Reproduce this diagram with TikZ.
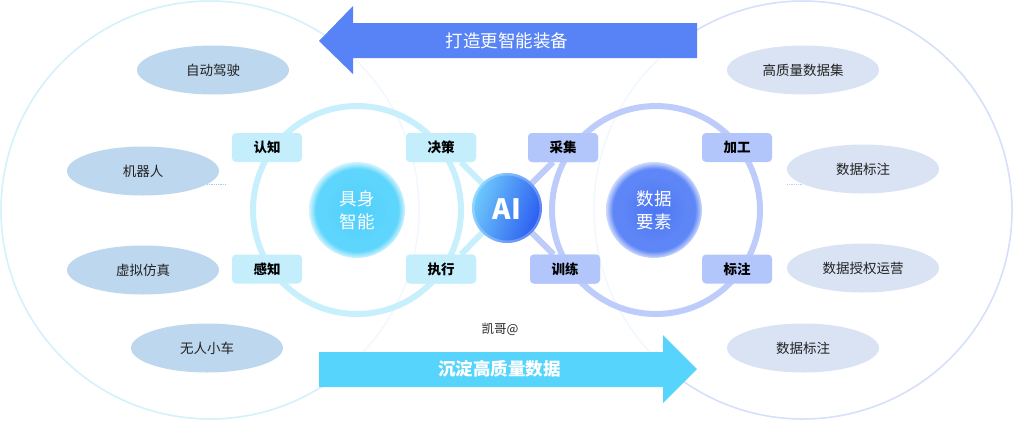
\documentclass[tikz,border=0pt]{standalone}
\usepackage{fontspec}
\setmainfont{Noto Sans CJK SC}
\usetikzlibrary{shapes.geometric}
\definecolor{bigL}{HTML}{D3F2FC}
\definecolor{bigR}{HTML}{D6DFFB}
\definecolor{bigFade}{HTML}{F1F8FD}
\definecolor{ringL}{HTML}{C8F0FC}
\definecolor{ringR}{HTML}{BDCCFA}
\definecolor{boxL}{HTML}{C5EEFC}
\definecolor{boxR}{HTML}{B3C6FB}
\definecolor{ellL}{HTML}{BDD7EE}
\definecolor{ellR}{HTML}{D9E3F4}
\definecolor{arrTop}{HTML}{5783F7}
\definecolor{arrBot}{HTML}{56D4FC}
\definecolor{txt}{HTML}{222222}
\definecolor{aiL}{HTML}{6FCBFC}
\definecolor{aiR}{HTML}{2A5BF0}
\definecolor{jsIn}{HTML}{4ECFFB}
\definecolor{jsMid}{HTML}{5ED5FC}
\definecolor{jsOut}{HTML}{D4F4FE}
\definecolor{sjIn}{HTML}{4C76F4}
\definecolor{sjMid}{HTML}{5E86F6}
\definecolor{sjOut}{HTML}{D0DBFC}
\definecolor{dotc}{HTML}{9CCDF0}
\pgfdeclareradialshading{jsglow}{\pgfpoint{0bp}{0bp}}{color(0bp)=(jsIn); color(17bp)=(jsMid); color(21.5bp)=(jsMid); color(25bp)=(jsOut); color(50bp)=(jsOut)}
\pgfdeclareradialshading{sjglow}{\pgfpoint{0bp}{0bp}}{color(0bp)=(sjIn); color(17bp)=(sjMid); color(21.5bp)=(sjMid); color(25bp)=(sjOut); color(50bp)=(sjOut)}
\tikzset{
  boxl/.style={rectangle, rounded corners=4pt, fill=boxL, minimum width=70pt, minimum height=29pt, font=\fontsize{13.5}{15}\selectfont\bfseries, text=black},
  boxr/.style={boxl, fill=boxR},
  elll/.style={ellipse, fill=ellL, minimum width=152pt, minimum height=49pt, inner sep=0pt, font=\fontsize{13.5}{15}\selectfont, text=txt},
  ellr/.style={elll, fill=ellR},
  arrtext/.style={font=\fontsize{17.5}{20}\selectfont, text=white},
  ctext/.style={font=\fontsize{17.5}{23}\selectfont, text=white, align=center},
  link/.style={line width=6pt},
}
\begin{document}
\begin{tikzpicture}[x=1pt,y=-1pt]
\useasboundingbox (0,0) rectangle (1013,421);
% big circles
\draw[bigFade, line width=1.5pt] (210,210) circle (209);
\draw[bigFade, line width=1.5pt] (803,210) circle (209);
\draw[bigL, line width=1.5pt] (210,210) ++(55:209) arc (55:305:209);
\draw[bigR, line width=1.5pt] (803,210) ++(125:209) arc (125:-125:209);
% arrows
\fill[arrTop] (319,41) -- (353,6) -- (353,23) -- (697,23) -- (697,58) -- (353,58) -- (353,74) -- cycle;
\node[arrtext] (toparrow) at (507,41) {打造更智能装备};
\fill[arrBot] (319,352) -- (663,352) -- (663,335) -- (697,369) -- (663,403) -- (663,387) -- (319,387) -- cycle;
\node[arrtext, font=\fontsize{17.5}{20}\selectfont\bfseries] (botarrow) at (499.5,369) {沉淀高质量数据};
\node[font=\fontsize{12.5}{14}\selectfont, text=txt] (author) at (500,329) {凯哥@};
% rings
\draw[ringL, line width=6pt] (357,210) circle (104);
\draw[ringR, line width=6pt] (656,210) circle (104);
% anchor nodes
\node[circle, minimum size=68pt, inner sep=0pt] (ai) at (507,208) {};
\node[boxl] (jc0) at (441,147.5) {};
\node[boxl] (zx0) at (441,269) {};
\node[boxr] (cj0) at (563,147.5) {};
\node[boxr] (xl0) at (565,269) {};
% connectors
\draw[ringL, link] ([xshift=20pt]jc0.south) -- (ai.center);
\draw[ringL, link] ([xshift=20pt]zx0.north) -- (ai.center);
\draw[ringR, link] ([xshift=-10pt]cj0.south) -- (ai.center);
\draw[ringR, link] ([xshift=-11.5pt]xl0.north) -- (ai.center);
% boxes
\node[boxl] (rz) at (267,147.5) {认知};
\node[boxl] (jc) at (441,147.5) {决策};
\node[boxl] (gz) at (267,269) {感知};
\node[boxl] (zx) at (441,269) {执行};
\node[boxr] (cj) at (563,147.5) {采集};
\node[boxr] (xl) at (565,269) {训练};
\node[boxr] (jg) at (737,147.5) {加工};
\node[boxr] (bz) at (737,269) {标注};
% circles
\shade[shading=jsglow] (357,210) circle (48);
\node[ctext] (js) at (357,210) {具身\\智能};
\shade[shading=sjglow] (654,210) circle (48);
\node[ctext] (sj) at (654,210) {数据\\要素};
\shade[left color=aiL, right color=aiR, shading angle=70] (507,208) circle (35);
\draw[white, opacity=0.25, line width=2.5pt] (507,208) circle (33.8);
\node[font=\fontsize{28}{30}\selectfont\bfseries, text=white] (aitext) at (507,209) {AI};
% ellipses
\node[elll] (zd) at (213,70) {自动驾驶};
\node[elll] (jqr) at (143,171) {机器人};
\node[elll] (xn) at (143,270) {虚拟仿真};
\node[elll] (wr) at (207,348) {无人小车};
\node[ellr] (gzl) at (803,70) {高质量数据集};
\node[ellr] (sb1) at (863,169) {数据标注};
\node[ellr] (sq) at (863,268) {数据授权运营};
\node[ellr] (sb2) at (803,348) {数据标注};
% dotted ticks
\coordinate (dl0) at (207,184);
\coordinate (dl) at (226,184);
\coordinate (dr) at (787,184);
\coordinate (dr1) at (803,184);
\draw[dotc, densely dotted, line width=0.8pt] (dl0) -- (dl);
\draw[ringR, densely dotted, line width=0.8pt] (dr) -- (dr1);
\end{tikzpicture}
\end{document}
